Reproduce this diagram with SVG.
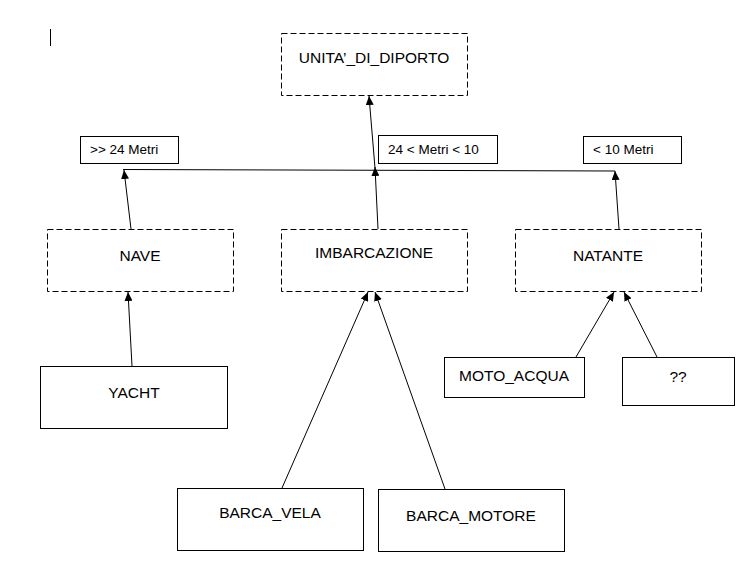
<svg xmlns="http://www.w3.org/2000/svg" width="751" height="584" viewBox="0 0 751 584">
<style>
.box{fill:#fff;stroke:#000;stroke-width:1}
.dash{stroke-dasharray:6 3}
.t{font-family:"Liberation Sans",Arial,sans-serif;font-size:15.5px;fill:#000;text-anchor:middle}
.s{font-family:"Liberation Sans",Arial,sans-serif;font-size:13.5px;fill:#000}
.c{stroke:#000;stroke-width:1;fill:none}
</style>
<defs>
<marker id="ah" markerUnits="userSpaceOnUse" markerWidth="10" markerHeight="8" refX="9" refY="4" orient="auto">
<path d="M0,0 L9,4 L0,8 Z" fill="#000"/>
</marker>
</defs>
<rect width="751" height="584" fill="#fff"/>
<line x1="50.5" y1="29" x2="50.5" y2="46" stroke="#000" stroke-width="1"/>
<g id="connectors">
<line class="c" x1="123" y1="169.5" x2="615" y2="171"/>
<line class="c" x1="375" y1="168" x2="369" y2="96" marker-end="url(#ah)"/>
<line class="c" x1="131" y1="229" x2="124" y2="170" marker-end="url(#ah)"/>
<line class="c" x1="378" y1="229" x2="375" y2="167" marker-end="url(#ah)"/>
<line class="c" x1="619" y1="229" x2="615" y2="171" marker-end="url(#ah)"/>
<line class="c" x1="132" y1="366" x2="128" y2="292" marker-end="url(#ah)"/>
<line class="c" x1="282" y1="488" x2="368" y2="292" marker-end="url(#ah)"/>
<line class="c" x1="445" y1="489" x2="375" y2="292" marker-end="url(#ah)"/>
<line class="c" x1="576" y1="357" x2="614" y2="292" marker-end="url(#ah)"/>
<line class="c" x1="657" y1="357" x2="624" y2="292" marker-end="url(#ah)"/>
</g>
<g id="lbl1"><rect class="box" x="80.5" y="136.5" width="98" height="27"/><text class="s" x="90" y="154">&gt;&gt; 24 Metri</text></g>
<g id="lbl2"><rect class="box" x="378.5" y="135.5" width="119" height="28"/><text class="s" x="388" y="154">24 &lt; Metri &lt; 10</text></g>
<g id="lbl3"><rect class="box" x="583.5" y="136.5" width="98" height="27"/><text class="s" x="593" y="154">&lt; 10 Metri</text></g>
<g id="unita"><rect class="box dash" x="281.5" y="33.5" width="186" height="62"/><text class="t" x="374" y="63">UNITA’_DI_DIPORTO</text></g>
<g id="nave"><rect class="box dash" x="47.5" y="229.5" width="186" height="62"/><text class="t" x="140" y="261">NAVE</text></g>
<g id="imbarcazione"><rect class="box dash" x="281.5" y="229.5" width="186" height="62"/><text class="t" x="374" y="258">IMBARCAZIONE</text></g>
<g id="natante"><rect class="box dash" x="515.5" y="229.5" width="186" height="62"/><text class="t" x="608" y="261">NATANTE</text></g>
<g id="yacht"><rect class="box" x="40.5" y="366.5" width="187" height="62"/><text class="t" x="134" y="398">YACHT</text></g>
<g id="moto_acqua"><rect class="box" x="444.5" y="357.5" width="140" height="40"/><text class="t" x="514" y="381">MOTO_ACQUA</text></g>
<g id="qq"><rect class="box" x="622.5" y="357.5" width="112" height="48"/><text class="t" x="678" y="382">??</text></g>
<g id="barca_vela"><rect class="box" x="177.5" y="488.5" width="186" height="62"/><text class="t" x="270" y="518">BARCA_VELA</text></g>
<g id="barca_motore"><rect class="box" x="378.5" y="489.5" width="186" height="62"/><text class="t" x="471" y="521">BARCA_MOTORE</text></g>
</svg>
